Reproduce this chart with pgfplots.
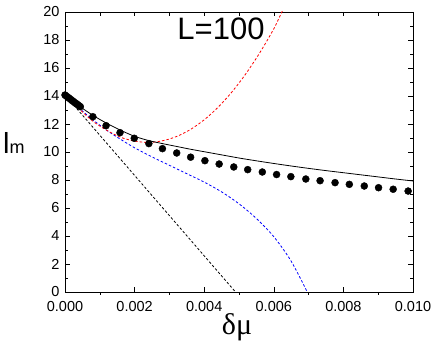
\documentclass[border=0pt]{standalone}
\usepackage{fontspec}
\setmainfont{Liberation Sans}
\newfontfamily\greekserif{Liberation Serif}
\usepackage{pgfplots}
\pgfplotsset{compat=1.18}

\pgfplotsset{
  common/.style={
    scale only axis, width=348pt, height=280pt,
    at={(0,0)}, anchor=south west,
    xmin=0, xmax=0.01, ymin=0, ymax=20,
    tick align=inside,
    major tick length=5pt, minor tick length=3pt,
    tick style={black, line width=0.6pt},
    ticklabel style={font=\fontsize{14.5}{15}\selectfont},
    scaled x ticks=false,
  },
  dash/.style={line width=0.8pt, dash pattern=on 2.5pt off 2pt},
}

\begin{document}
\begin{tikzpicture}
\useasboundingbox (-65pt,-60pt) rectangle (371pt,292pt);

% bottom axis: inner major ticks, outer minor ticks, labels
\begin{axis}[
  common,
  axis x line*=bottom, axis y line=none,
  axis line style={line width=0.8pt},
  xtick={0,0.002,0.004,0.006,0.008,0.010},
  xticklabel style={yshift=-6pt,
    /pgf/number format/.cd, fixed, fixed zerofill, precision=3, assume math mode=true},
  extra x ticks={0.001,0.003,0.005,0.007,0.009},
  extra x tick labels={},
  extra x tick style={tick align=outside, major tick length=3pt},
]
\end{axis}

\begin{axis}[
  common,
  axis line style={line width=0.8pt},
  xtick={0,0.001,0.002,0.003,0.004,0.005,0.006,0.007,0.008,0.009,0.010},
  xtick pos=right, xticklabels={},
  major x tick style={/pgfplots/major tick length=4pt},
  ytick={0,2,...,20}, minor y tick num=1,
  yticklabel style={xshift=-2pt, /pgf/number format/assume math mode=true},
]
% black dashed
\addplot[black, dash] coordinates {(0,14.07) (0.0049,0)};
% blue dashed
\addplot[blue, dash, smooth] coordinates {
  (0,14.07) (0.0004,13.15) (0.0008,12.3) (0.0012,11.55) (0.0016,10.9)
  (0.0020,10.3) (0.0025,9.65) (0.0030,9.05) (0.0035,8.45) (0.0040,7.85)
  (0.0045,7.15) (0.0050,6.3) (0.0055,5.25) (0.0060,3.95) (0.0065,2.2) (0.00696,0)
};
% red dashed
\addplot[red, dash, smooth] coordinates {
  (0,14.07) (0.0004,13.1) (0.0008,12.2) (0.0012,11.55) (0.0016,11.05)
  (0.0020,10.78) (0.0024,10.68) (0.0028,10.8) (0.0032,11.1) (0.0036,11.6)
  (0.0040,12.3) (0.0044,13.2) (0.0048,14.3) (0.0052,15.6) (0.0056,17.1)
  (0.0060,18.8) (0.00625,20.1)
};
% solid black
\addplot[black, line width=0.8pt, smooth] coordinates {
  (0,14.07) (0.0004,13.3) (0.0008,12.62) (0.0012,12.05) (0.0016,11.55)
  (0.0020,11.12) (0.0024,10.82) (0.0028,10.6) (0.0032,10.4) (0.0036,10.2)
  (0.0040,10.02) (0.0044,9.84) (0.0050,9.57) (0.0055,9.37) (0.0060,9.18)
  (0.0065,9.0) (0.0070,8.83) (0.0075,8.67) (0.0080,8.52) (0.0085,8.37)
  (0.0090,8.22) (0.0095,8.07) (0.0100,7.93)
};
% simulation points
\addplot[only marks, mark=*, mark size=3.5pt, black] coordinates {
  (0.00000,14.07) (0.00004,13.99) (0.00008,13.91) (0.00012,13.84)
  (0.00016,13.76) (0.00020,13.68) (0.00024,13.61) (0.00028,13.53)
  (0.00032,13.46) (0.00036,13.39) (0.00040,13.31) (0.00044,13.24)
  (0.00080,12.52) (0.00118,11.88) (0.00158,11.38) (0.00199,10.98)
  (0.00241,10.60) (0.00280,10.24) (0.00321,9.93) (0.00361,9.63)
  (0.00402,9.38) (0.00443,9.14) (0.00485,8.93) (0.00525,8.74)
  (0.00567,8.57) (0.00608,8.39) (0.00649,8.24) (0.00692,8.07)
  (0.00733,7.95) (0.00776,7.81) (0.00817,7.69) (0.00860,7.57)
  (0.00901,7.45) (0.00943,7.34) (0.00986,7.21)
};
\end{axis}

\node[anchor=base, inner sep=0] at (156pt,252pt) {\fontsize{31}{31}\selectfont L=100};
\node[anchor=base west, inner sep=0] at (-62pt,138.7pt)
  {\fontsize{29}{29}\selectfont l\fontsize{18}{18}\selectfont m};
\node[anchor=base, inner sep=0] at (172pt,-43pt)
  {\greekserif\fontsize{30}{30}\selectfont δμ};
\end{tikzpicture}
\end{document}
